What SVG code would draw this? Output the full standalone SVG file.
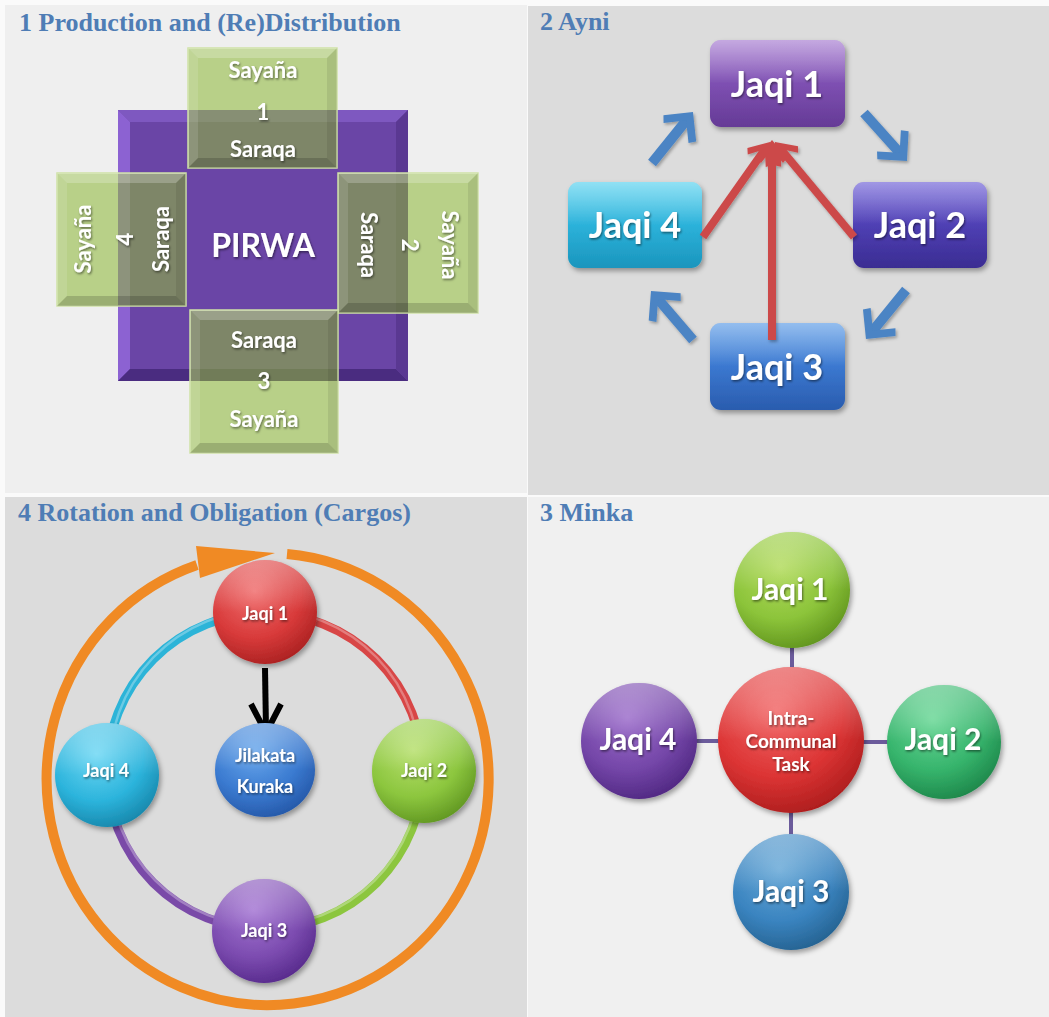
<svg xmlns="http://www.w3.org/2000/svg" width="1049" height="1017" viewBox="0 0 1049 1017">
<defs>
<style>
.title{font-family:"Liberation Serif","Times New Roman",serif;font-weight:bold;font-size:26px;fill:#4f7db5}
.lbl{font-family:Lato,"Open Sans","DejaVu Sans",sans-serif;font-weight:bold;fill:#ffffff;text-anchor:middle}
.s22{font-size:22px}
.s32{font-size:32px}
.s36{font-size:36px}
.s18{font-size:18px}
.s19{font-size:19px}
.s30{font-size:30px}
.gr{fill:#8eb83a;fill-opacity:0.57;stroke:#cfe2a6;stroke-width:1.5}
.bl{fill:#ffffff;fill-opacity:0.22}
.bl2{fill:#ffffff;fill-opacity:0.12}
.bd{fill:#000000;fill-opacity:0.16}
.bd2{fill:#000000;fill-opacity:0.08}
.ring{fill:none;stroke-width:9}
.hl{fill:none;stroke:#ffffff;stroke-opacity:0.3;stroke-width:2.5}
.red{stroke:#cc4a4a;stroke-width:8;fill:none}
.blue{stroke:#4b84c4;stroke-width:10;fill:none}
.link{stroke:#6b5b9b;stroke-width:4}
</style>
<filter id="sh" x="-20%" y="-20%" width="150%" height="150%"><feDropShadow dx="2" dy="3" stdDeviation="2.5" flood-color="#000" flood-opacity="0.35"/></filter>
<filter id="ts" x="-10%" y="-20%" width="130%" height="150%"><feDropShadow dx="1" dy="1.5" stdDeviation="1" flood-color="#000" flood-opacity="0.5"/></filter>
<filter id="as" x="-20%" y="-20%" width="150%" height="150%"><feDropShadow dx="1.5" dy="2" stdDeviation="1.5" flood-color="#000" flood-opacity="0.3"/></filter>
<linearGradient id="gl" x1="0" y1="0" x2="0" y2="1"><stop offset="0" stop-color="#fff" stop-opacity="0.35"/><stop offset="0.5" stop-color="#fff" stop-opacity="0"/></linearGradient>
<linearGradient id="gP" x1="0" y1="0" x2="0" y2="1"><stop offset="0" stop-color="#a57ad0"/><stop offset="0.5" stop-color="#7e50b2"/><stop offset="1" stop-color="#653a96"/></linearGradient>
<linearGradient id="gC" x1="0" y1="0" x2="0" y2="1"><stop offset="0" stop-color="#55d0ee"/><stop offset="0.5" stop-color="#2cb2da"/><stop offset="1" stop-color="#1a95bd"/></linearGradient>
<linearGradient id="gI" x1="0" y1="0" x2="0" y2="1"><stop offset="0" stop-color="#6e5fd6"/><stop offset="0.5" stop-color="#4f40b4"/><stop offset="1" stop-color="#3a2c92"/></linearGradient>
<linearGradient id="gB" x1="0" y1="0" x2="0" y2="1"><stop offset="0" stop-color="#5a9ae6"/><stop offset="0.5" stop-color="#3b78d0"/><stop offset="1" stop-color="#2a5cae"/></linearGradient>
<radialGradient id="rR" cx="0.4" cy="0.3" r="0.75"><stop offset="0" stop-color="#f07070"/><stop offset="0.6" stop-color="#d83a3a"/><stop offset="1" stop-color="#a82020"/></radialGradient>
<radialGradient id="rG" cx="0.4" cy="0.3" r="0.75"><stop offset="0" stop-color="#b8e070"/><stop offset="0.6" stop-color="#8cc63e"/><stop offset="1" stop-color="#5e9420"/></radialGradient>
<radialGradient id="rC" cx="0.4" cy="0.3" r="0.75"><stop offset="0" stop-color="#70d8f4"/><stop offset="0.6" stop-color="#2cb4dc"/><stop offset="1" stop-color="#1684a8"/></radialGradient>
<radialGradient id="rP" cx="0.4" cy="0.3" r="0.75"><stop offset="0" stop-color="#a678d4"/><stop offset="0.6" stop-color="#7c4cb0"/><stop offset="1" stop-color="#55288a"/></radialGradient>
<radialGradient id="rB" cx="0.4" cy="0.3" r="0.75"><stop offset="0" stop-color="#6aa8ec"/><stop offset="0.6" stop-color="#3a7ad0"/><stop offset="1" stop-color="#2456a6"/></radialGradient>
<radialGradient id="rR2" cx="0.4" cy="0.3" r="0.75"><stop offset="0" stop-color="#f26a6a"/><stop offset="0.6" stop-color="#dc3434"/><stop offset="1" stop-color="#aa1c1c"/></radialGradient>
<radialGradient id="rG2" cx="0.4" cy="0.3" r="0.75"><stop offset="0" stop-color="#b4dc60"/><stop offset="0.6" stop-color="#8cc43a"/><stop offset="1" stop-color="#5e921c"/></radialGradient>
<radialGradient id="rE" cx="0.4" cy="0.3" r="0.75"><stop offset="0" stop-color="#6cd898"/><stop offset="0.6" stop-color="#36b46c"/><stop offset="1" stop-color="#1c8448"/></radialGradient>
<radialGradient id="rP2" cx="0.4" cy="0.3" r="0.75"><stop offset="0" stop-color="#9e70cc"/><stop offset="0.6" stop-color="#7446a8"/><stop offset="1" stop-color="#4e2680"/></radialGradient>
<radialGradient id="rS" cx="0.4" cy="0.3" r="0.75"><stop offset="0" stop-color="#6aaad8"/><stop offset="0.6" stop-color="#3a84c0"/><stop offset="1" stop-color="#24608e"/></radialGradient>
<marker id="rh" markerUnits="userSpaceOnUse" markerWidth="40" markerHeight="40" viewBox="-20 -20 40 40" refX="0" refY="0" orient="auto" overflow="visible"><polygon points="8,0 -10,-15 -15,-11 -1,0 -15,11 -10,15" fill="#cc4a4a"/></marker>
<marker id="bh" markerUnits="userSpaceOnUse" markerWidth="50" markerHeight="50" viewBox="-25 -25 50 50" refX="0" refY="0" orient="auto" overflow="visible"><polygon points="10,0 -11,-21 -17,-16 -1,0 -17,16 -11,21" fill="#4b84c4"/></marker>
</defs>

<g id="panels">
<rect x="0" y="0" width="1049" height="1017" fill="#fafafa"/>
<rect x="5" y="5" width="522" height="488" fill="#efefef"/>
<rect x="528" y="6" width="521" height="489" fill="#dcdcdc"/>
<rect x="5" y="497" width="522" height="520" fill="#dcdcdc"/>
<rect x="528" y="497" width="521" height="520" fill="#f0f0f0"/>
</g>

<g id="titles">
<text class="title" x="19" y="31">1 Production and (Re)Distribution</text>
<text class="title" x="540" y="30">2 Ayni</text>
<text class="title" x="18" y="521">4 Rotation and Obligation (Cargos)</text>
<text class="title" x="540" y="521">3 Minka</text>
</g>

<!-- Panel 1 -->
<g id="pirwa">
<rect x="118" y="110" width="290" height="271" fill="#6a45a6"/>
<polygon points="118,110 408,110 396,122 130,122" fill="#7e58c0"/>
<polygon points="118,110 130,122 130,369 118,381" fill="#8c62d2"/>
<polygon points="118,381 130,369 396,369 408,381" fill="#4a2c80"/>
<polygon points="408,110 408,381 396,369 396,122" fill="#5a3892"/>
<text class="lbl s32" x="263" y="257" filter="url(#ts)">PIRWA</text>
</g>
<g id="sector1">
<rect class="gr" x="188" y="48" width="149" height="120"/>
<polygon class="bl" points="188,48 337,48 327,58 198,58"/>
<polygon class="bl2" points="188,48 198,58 198,158 188,168"/>
<polygon class="bd" points="188,168 198,158 327,158 337,168"/>
<polygon class="bd2" points="337,48 337,168 327,158 327,58"/>
<g filter="url(#ts)">
<text class="lbl s22" x="263" y="78">Sayaña</text>
<text class="lbl s22" x="263" y="120">1</text>
<text class="lbl s22" x="263" y="157">Saraqa</text>
</g>
</g>
<g id="sector4">
<rect class="gr" x="57" y="173" width="129" height="133"/>
<polygon class="bl" points="57,173 186,173 176,183 67,183"/>
<polygon class="bl2" points="57,173 67,183 67,296 57,306"/>
<polygon class="bd" points="57,306 67,296 176,296 186,306"/>
<polygon class="bd2" points="186,173 186,306 176,296 176,183"/>
<g filter="url(#ts)">
<text class="lbl s22" transform="translate(91,239) rotate(-90)">Sayaña</text>
<text class="lbl s22" transform="translate(133,239) rotate(-90)">4</text>
<text class="lbl s22" transform="translate(169,239) rotate(-90)">Saraqa</text>
</g>
</g>
<g id="sector2">
<rect class="gr" x="338" y="173" width="140" height="140"/>
<polygon class="bl" points="338,173 478,173 468,183 348,183"/>
<polygon class="bl2" points="338,173 348,183 348,303 338,313"/>
<polygon class="bd" points="338,313 348,303 468,303 478,313"/>
<polygon class="bd2" points="478,173 478,313 468,303 468,183"/>
<g filter="url(#ts)">
<text class="lbl s22" transform="translate(361,245) rotate(90)">Saraqa</text>
<text class="lbl s22" transform="translate(402,245) rotate(90)">2</text>
<text class="lbl s22" transform="translate(442,245) rotate(90)">Sayaña</text>
</g>
</g>
<g id="sector3">
<rect class="gr" x="190" y="310" width="148" height="143"/>
<polygon class="bl" points="190,310 338,310 328,320 200,320"/>
<polygon class="bl2" points="190,310 200,320 200,443 190,453"/>
<polygon class="bd" points="190,453 200,443 328,443 338,453"/>
<polygon class="bd2" points="338,310 338,453 328,443 328,320"/>
<g filter="url(#ts)">
<text class="lbl s22" x="264" y="348">Saraqa</text>
<text class="lbl s22" x="264" y="389">3</text>
<text class="lbl s22" x="264" y="427">Sayaña</text>
</g>
</g>

<!-- Panel 2 -->
<g id="ayni-connectors">
<g filter="url(#as)">
<line class="blue" x1="652" y1="163" x2="686.7" y2="119.8" marker-end="url(#bh)"/>
<line class="blue" x1="864" y1="113" x2="900.3" y2="153.5" marker-end="url(#bh)"/>
<line class="blue" x1="906" y1="290" x2="872.3" y2="331.3" marker-end="url(#bh)"/>
<line class="blue" x1="693" y1="340" x2="657.5" y2="298.6" marker-end="url(#bh)"/>
</g>
</g>
<g id="ayni-j1"><rect x="710" y="40" width="135" height="87" rx="11" fill="url(#gP)" filter="url(#sh)"/><rect x="710" y="40" width="135" height="87" rx="11" fill="url(#gl)"/><text class="lbl s36" x="777" y="97" filter="url(#ts)">Jaqi 1</text></g>
<g id="ayni-j4"><rect x="568" y="182" width="134" height="86" rx="11" fill="url(#gC)" filter="url(#sh)"/><rect x="568" y="182" width="134" height="86" rx="11" fill="url(#gl)"/><text class="lbl s36" x="635" y="238" filter="url(#ts)">Jaqi 4</text></g>
<g id="ayni-j2"><rect x="853" y="182" width="134" height="86" rx="11" fill="url(#gI)" filter="url(#sh)"/><rect x="853" y="182" width="134" height="86" rx="11" fill="url(#gl)"/><text class="lbl s36" x="920" y="238" filter="url(#ts)">Jaqi 2</text></g>
<g id="ayni-j3"><rect x="710" y="323" width="135" height="87" rx="11" fill="url(#gB)" filter="url(#sh)"/><rect x="710" y="323" width="135" height="87" rx="11" fill="url(#gl)"/><text class="lbl s36" x="777" y="380" filter="url(#ts)">Jaqi 3</text></g>
<g id="ayni-red" filter="url(#as)">
<line class="red" x1="703" y1="237" x2="765.4" y2="148.5" marker-end="url(#rh)"/>
<line class="red" x1="854" y1="237" x2="780.1" y2="148.2" marker-end="url(#rh)"/>
<line class="red" x1="772" y1="340" x2="772" y2="148" marker-end="url(#rh)"/>
</g>

<!-- Panel 4 (Rotation) -->
<g id="cargo-connectors">
<path d="M287,554 A221,226 0 1 1 197,565" fill="none" stroke="#f08a24" stroke-width="10"/>
<polygon points="275,553 196,546 200,578" fill="#f08a24"/>
<path class="ring" d="M265,613 A158,158 0 0 1 423,771" stroke="#d84646"/>
<path class="ring" d="M423,771 A158,158 0 0 1 265,929" stroke="#8cc63e"/>
<path class="ring" d="M265,929 A158,158 0 0 1 107,771" stroke="#7a4aa8"/>
<path class="ring" d="M107,771 A158,158 0 0 1 265,613" stroke="#2cb4d8"/>
<path class="hl" d="M265,610 A155,155 0 0 1 420,771 A155,155 0 0 1 265,926 A155,155 0 0 1 110,771 A155,155 0 0 1 265,610"/>
<line x1="265" y1="668" x2="266" y2="730" stroke="#000" stroke-width="6"/>
<polyline points="251,704 266,733 281,704" fill="none" stroke="#000" stroke-width="6" stroke-linejoin="miter"/>
</g>
<g id="cargo-j1"><circle cx="265" cy="612" r="52" fill="url(#rR)" filter="url(#sh)"/><circle cx="265" cy="612" r="52" fill="url(#gl)"/><text class="lbl s18" x="265" y="620" filter="url(#ts)">Jaqi 1</text></g>
<g id="cargo-j2"><circle cx="424" cy="771" r="52" fill="url(#rG)" filter="url(#sh)"/><circle cx="424" cy="771" r="52" fill="url(#gl)"/><text class="lbl s18" x="424" y="777" filter="url(#ts)">Jaqi 2</text></g>
<g id="cargo-j3"><circle cx="264" cy="931" r="52" fill="url(#rP)" filter="url(#sh)"/><circle cx="264" cy="931" r="52" fill="url(#gl)"/><text class="lbl s18" x="264" y="937" filter="url(#ts)">Jaqi 3</text></g>
<g id="cargo-j4"><circle cx="107" cy="775" r="52" fill="url(#rC)" filter="url(#sh)"/><circle cx="107" cy="775" r="52" fill="url(#gl)"/><text class="lbl s18" x="106" y="777" filter="url(#ts)">Jaqi 4</text></g>
<g id="cargo-jk"><ellipse cx="265" cy="770" rx="50" ry="47" fill="url(#rB)" filter="url(#sh)"/><ellipse cx="265" cy="770" rx="50" ry="47" fill="url(#gl)"/><g filter="url(#ts)"><text class="lbl s18" x="265" y="762">Jilakata</text><text class="lbl s18" x="265" y="793">Kuraka</text></g></g>

<!-- Panel 3 (Minka) -->
<g id="minka-connectors">
<line class="link" x1="792" y1="645" x2="792" y2="670"/>
<line class="link" x1="696" y1="741" x2="720" y2="741"/>
<line class="link" x1="862" y1="742" x2="888" y2="742"/>
<line class="link" x1="791" y1="810" x2="791" y2="836"/>
</g>
<g id="minka-task"><circle cx="791" cy="740" r="73" fill="url(#rR2)" filter="url(#sh)"/><circle cx="791" cy="740" r="73" fill="url(#gl)"/><g filter="url(#ts)"><text class="lbl s19" x="791" y="725">Intra-</text><text class="lbl s19" x="791" y="748">Communal</text><text class="lbl s19" x="791" y="771">Task</text></g></g>
<g id="minka-j1"><circle cx="792" cy="590" r="58" fill="url(#rG2)" filter="url(#sh)"/><circle cx="792" cy="590" r="58" fill="url(#gl)"/><text class="lbl s30" x="790" y="600" filter="url(#ts)">Jaqi 1</text></g>
<g id="minka-j2"><circle cx="944" cy="742" r="57" fill="url(#rE)" filter="url(#sh)"/><circle cx="944" cy="742" r="57" fill="url(#gl)"/><text class="lbl s30" x="943" y="750" filter="url(#ts)">Jaqi 2</text></g>
<g id="minka-j3"><circle cx="791" cy="892" r="58" fill="url(#rS)" filter="url(#sh)"/><circle cx="791" cy="892" r="58" fill="url(#gl)"/><text class="lbl s30" x="791" y="902" filter="url(#ts)">Jaqi 3</text></g>
<g id="minka-j4"><circle cx="639" cy="741" r="58" fill="url(#rP2)" filter="url(#sh)"/><circle cx="639" cy="741" r="58" fill="url(#gl)"/><text class="lbl s30" x="638" y="750" filter="url(#ts)">Jaqi 4</text></g>
</svg>
